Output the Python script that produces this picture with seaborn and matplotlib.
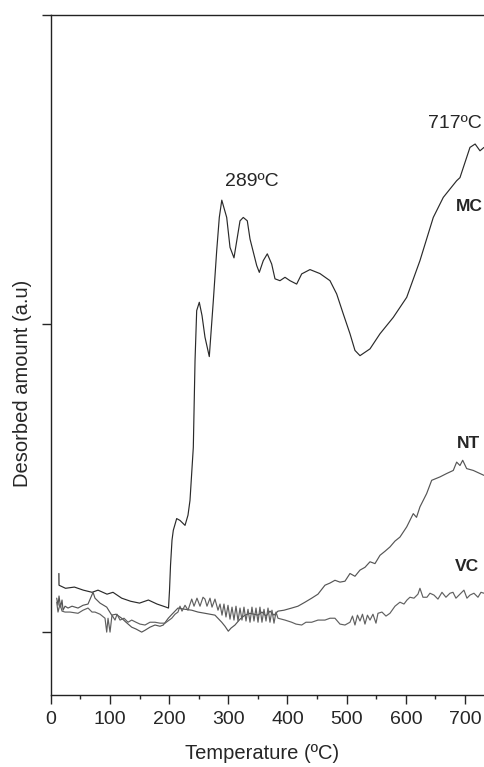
import numpy as np
import pandas as pd
import matplotlib
matplotlib.use("Agg")
import matplotlib.pyplot as plt
import seaborn as sns

# MC curve (temperature in ºC, desorbed amount in a.u.)
mc_temp = [13.8, 14.0, 25.0, 40.0, 55.1, 69.9, 79.9, 95.1, 105.2, 119.9, 135.0, 150.0, 165.0,
           179.6, 194.8, 199.0, 200.7, 202.4, 204.9, 207.1, 212.8, 218.4, 226.9, 231.9,
           235.3, 240.9, 243.8, 246.6, 251.0, 255.6, 260.6, 267.9, 274.7, 280.4, 284.8,
           289.0, 297.3, 302.9, 309.6, 319.8, 325.3, 332.1, 336.7, 348.0, 352.4, 359.1,
           365.9, 373.3, 378.9, 387.3, 395.8, 404.2, 415.5, 424.0, 438.0, 454.9, 471.8,
           483.1, 494.3, 505.6, 514.0, 522.5, 539.4, 556.3, 578.7, 601.4, 623.8, 646.3,
           663.2, 685.8, 691.4, 708.3, 717.0, 725.2, 732.0]
mc_val = [0.190, 0.152, 0.142, 0.146, 0.136, 0.129, 0.136, 0.123, 0.129, 0.110, 0.100, 0.094, 0.104,
          0.091, 0.081, 0.078, 0.136, 0.217, 0.298, 0.330, 0.368, 0.362, 0.346, 0.379,
          0.427, 0.599, 0.880, 1.042, 1.069, 1.026, 0.956, 0.893, 1.074, 1.236, 1.344,
          1.400, 1.344, 1.247, 1.213, 1.333, 1.344, 1.333, 1.274, 1.188, 1.166, 1.204,
          1.226, 1.193, 1.145, 1.139, 1.150, 1.139, 1.128, 1.161, 1.175, 1.162, 1.139,
          1.096, 1.031, 0.967, 0.913, 0.896, 0.918, 0.967, 1.020, 1.085, 1.204, 1.344,
          1.409, 1.463, 1.473, 1.571, 1.582, 1.560, 1.571]

# NT curve
nt_temp = [10.1, 12.3, 14.0, 16.6, 19.1, 20.8, 24.2, 29.2, 36.0, 46.1, 54.6, 63.0, 71.5,
           74.8, 83.3, 94.6, 103.0, 110.3, 119.9, 127.2, 136.8, 144.1, 153.7, 159.3, 167.7,
           176.2, 184.6, 190.2, 198.6, 204.9, 215.0, 226.9, 238.2, 248.8, 260.6, 269.1,
           277.5, 288.9, 294.4, 300.0, 304.6, 311.3, 319.8, 328.2, 336.7, 350.2, 356.9,
           363.7, 370.4, 377.2, 383.9, 394.1, 407.1, 417.7, 429.6, 440.9, 451.5, 463.3,
           471.8, 480.2, 488.7, 497.1, 505.6, 514.0, 522.5, 530.9, 539.4, 547.8, 556.3,
           564.7, 573.1, 581.6, 590.0, 601.4, 612.5, 618.0, 623.8, 635.1, 643.6, 657.6,
           668.9, 680.1, 685.8, 691.4, 696.0, 702.7, 713.9, 725.2, 732.0]
nt_val = [0.110, 0.087, 0.117, 0.081, 0.104, 0.071, 0.084, 0.078, 0.084, 0.078, 0.087, 0.091,
          0.129, 0.110, 0.094, 0.081, 0.055, 0.058, 0.045, 0.032, 0.016, 0.010, 0.000,
          0.006, 0.016, 0.023, 0.019, 0.023, 0.045, 0.058, 0.078, 0.074, 0.071, 0.065,
          0.061, 0.058, 0.055, 0.032, 0.019, 0.003, 0.013, 0.023, 0.042, 0.055, 0.061,
          0.055, 0.065, 0.052, 0.068, 0.055, 0.068, 0.071, 0.078, 0.084, 0.097, 0.110,
          0.123, 0.152, 0.159, 0.168, 0.162, 0.165, 0.190, 0.181, 0.201, 0.210, 0.228,
          0.222, 0.249, 0.262, 0.276, 0.295, 0.308, 0.341, 0.384, 0.372, 0.406, 0.449,
          0.492, 0.503, 0.514, 0.524, 0.551, 0.540, 0.557, 0.530, 0.524, 0.514, 0.508]

# VC curve
vc_temp = [10.1, 12.3, 15.7, 19.1, 24.2, 32.6, 46.1, 54.6, 63.0, 69.8, 74.8, 83.3, 91.7,
           94.6, 96.8, 100.2, 103.5, 108.6, 112.0, 117.1, 123.8, 130.6, 136.8, 144.1,
           150.8, 159.3, 167.7, 176.2, 184.6, 193.1, 204.4, 210.0, 215.0, 218.4, 221.8,
           226.9, 231.9, 238.2, 242.1, 247.1, 252.2, 257.3, 260.6, 264.0, 269.1, 272.5,
           277.5, 282.6, 286.0, 289.4, 292.7, 296.1, 299.5, 302.9, 306.3, 309.6, 313.0,
           316.4, 319.8, 323.1, 326.5, 329.9, 333.3, 336.7, 340.0, 343.4, 346.8, 350.2,
           353.5, 356.9, 360.3, 363.7, 367.1, 370.4, 373.8, 377.2, 380.6, 383.9, 395.8,
           407.1, 414.4, 424.0, 431.2, 440.9, 451.5, 463.3, 471.8, 480.2, 488.7, 497.1,
           505.6, 509.8, 514.0, 518.2, 522.5, 526.7, 530.9, 535.1, 539.4, 544.4, 549.5,
           552.9, 559.6, 566.4, 573.1, 581.6, 590.0, 596.8, 601.9, 606.9, 613.7, 620.4,
           623.8, 628.9, 635.6, 640.7, 647.5, 654.2, 661.0, 667.7, 674.5, 679.6, 684.6,
           691.4, 698.1, 703.2, 708.3, 715.0, 721.8, 726.9, 732.0]
vc_val = [0.097, 0.065, 0.091, 0.068, 0.065, 0.065, 0.061, 0.071, 0.078, 0.065, 0.065, 0.058,
          0.045, 0.000, 0.045, 0.000, 0.055, 0.039, 0.058, 0.039, 0.045, 0.032, 0.039,
          0.032, 0.026, 0.023, 0.032, 0.032, 0.029, 0.029, 0.045, 0.058, 0.065, 0.084,
          0.068, 0.087, 0.071, 0.107, 0.084, 0.110, 0.084, 0.113, 0.107, 0.084, 0.110,
          0.081, 0.107, 0.071, 0.091, 0.055, 0.091, 0.049, 0.087, 0.042, 0.081, 0.039,
          0.084, 0.036, 0.078, 0.039, 0.081, 0.036, 0.074, 0.032, 0.081, 0.036, 0.078,
          0.032, 0.081, 0.032, 0.074, 0.036, 0.078, 0.032, 0.071, 0.029, 0.065, 0.045,
          0.039, 0.032, 0.026, 0.023, 0.032, 0.032, 0.039, 0.039, 0.045, 0.045, 0.026,
          0.023, 0.032, 0.052, 0.023, 0.055, 0.036, 0.058, 0.026, 0.055, 0.039, 0.058,
          0.029, 0.061, 0.065, 0.052, 0.061, 0.084, 0.097, 0.091, 0.104, 0.113, 0.110,
          0.123, 0.142, 0.113, 0.113, 0.126, 0.120, 0.107, 0.129, 0.113, 0.126, 0.129,
          0.110, 0.123, 0.136, 0.110, 0.120, 0.126, 0.113, 0.129, 0.126]

peak_labels = ["289ºC", "717ºC"]
sample_names = ["MC", "NT", "VC"]

sns.set_style("ticks")
plt.rcParams["font.family"] = ["Liberation Sans", "DejaVu Sans"]

fig = plt.figure(figsize=(4.84, 7.67), dpi=100)
ax = fig.add_axes([0.1048, 0.0938, 0.8952, 0.8866])

curves = [(mc_temp, mc_val, "#2a2a2a"), (nt_temp, nt_val, "#555555"), (vc_temp, vc_val, "#606060")]
for name, (t, v, c) in zip(sample_names, curves):
    df = pd.DataFrame({"Temperature": t, "Amount": v})
    sns.lineplot(data=df, x="Temperature", y="Amount", sort=False, estimator=None,
                 color=c, linewidth=0.85, ax=ax)

ax.set_xlim(0, 732)
ax.set_ylim(-0.204, 2.0)
ax.set_xticks(np.arange(0, 701, 100))
ax.set_xticks(np.arange(50, 701, 100), minor=True)
ax.set_yticks([0, 1, 2])
ax.set_yticklabels([])
ax.tick_params(axis="x", which="major", length=6.5, width=1.0, labelsize=14, pad=5, direction="out")
ax.tick_params(axis="x", which="minor", length=3, width=1.0, direction="out")
ax.tick_params(axis="y", which="major", length=6.5, width=1.0, direction="out")
ax.spines["right"].set_visible(False)
for s in ["left", "top", "bottom"]:
    ax.spines[s].set_linewidth(1.0)
    ax.spines[s].set_color("#222222")

ax.set_xlabel("Temperature (ºC)", fontsize=14.5)
ax.set_ylabel("Desorbed amount (a.u)", fontsize=14.5)
ax.xaxis.set_label_coords(0.488, -0.072)
ax.yaxis.set_label_coords(-0.043, 0.459)

# peak temperature labels
ax.text(340, 1.46, peak_labels[0], fontsize=14, ha="center", va="center")
ax.text(683, 1.65, peak_labels[1], fontsize=14, ha="center", va="center")

# sample names
ax.text(730, 1.379, sample_names[0], fontsize=12.5, fontweight="bold", ha="right", va="center")
ax.text(705, 0.61, sample_names[1], fontsize=12.5, fontweight="bold", ha="center", va="center")
ax.text(703, 0.214, sample_names[2], fontsize=12.5, fontweight="bold", ha="center", va="center")

fig.savefig("out.png", dpi=100)
